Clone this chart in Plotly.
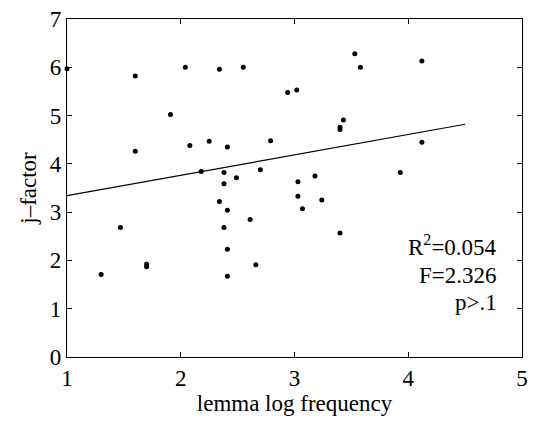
import plotly.graph_objects as go

# data
lemma_log_freq = [1.00, 1.60, 2.04, 2.34, 2.55, 2.94, 1.91, 1.60, 2.08, 2.25,
                  2.41, 2.79, 2.18, 2.38, 2.38, 2.49, 2.70, 3.02, 3.53, 3.58,
                  4.12, 3.43, 3.40, 3.40, 4.12, 3.03, 3.18, 3.93, 2.34, 2.41,
                  2.61, 1.47, 2.38, 2.41, 1.30, 1.70, 1.70, 2.66, 2.41, 3.03,
                  3.07, 3.24, 3.40]
j_factor = [5.97, 5.82, 6.00, 5.96, 6.00, 5.48, 5.02, 4.26, 4.38, 4.47,
            4.35, 4.48, 3.84, 3.82, 3.59, 3.71, 3.88, 5.53, 6.28, 6.00,
            6.13, 4.91, 4.76, 4.71, 4.45, 3.63, 3.75, 3.82, 3.22, 3.04,
            2.85, 2.68, 2.68, 2.23, 1.71, 1.92, 1.87, 1.91, 1.67, 3.33,
            3.07, 3.25, 2.57]
fit_x = [1.0, 4.5]
fit_y = [3.34, 4.82]
stats_lines = ["R<sup>2</sup>=0.054", "F=2.326", "p>.1"]
stats_y = [2.30, 1.69, 1.12]
x_ticks = [1, 2, 3, 4, 5]
y_ticks = [0, 1, 2, 3, 4, 5, 6, 7]

FONT = "Liberation Serif, Times New Roman, serif"

fig = go.Figure()
fig.add_trace(go.Scatter(x=lemma_log_freq, y=j_factor, mode="markers",
                         marker=dict(color="black", size=5),
                         cliponaxis=False, showlegend=False))
fig.add_trace(go.Scatter(x=fit_x, y=fit_y, mode="lines",
                         line=dict(color="black", width=1.2),
                         showlegend=False))

for txt, yy in zip(stats_lines, stats_y):
    fig.add_annotation(x=4.80, y=yy, text=txt, showarrow=False,
                       xanchor="right", yanchor="middle",
                       font=dict(family=FONT, size=23, color="black"))

axis_common = dict(showgrid=False, zeroline=False, showline=True,
                   linecolor="black", linewidth=1.3, mirror="ticks",
                   ticks="inside", ticklen=5, tickcolor="black", tickwidth=1,
                   tickfont=dict(family=FONT, size=23, color="black"))

fig.update_layout(
    width=535, height=425,
    margin=dict(l=67, r=7, t=17, b=68),
    paper_bgcolor="white", plot_bgcolor="white",
    xaxis=dict(range=[1, 5], tickvals=x_ticks, ticktext=[str(v) for v in x_ticks],
               title=dict(text="lemma log frequency", standoff=4,
                          font=dict(family=FONT, size=23, color="black")),
               **axis_common),
    yaxis=dict(range=[0, 7], tickvals=y_ticks, ticktext=[str(v) for v in y_ticks],
               title=dict(text="j–factor", standoff=6,
                          font=dict(family=FONT, size=23, color="black")),
               **axis_common),
)

fig.write_html("out.html")
